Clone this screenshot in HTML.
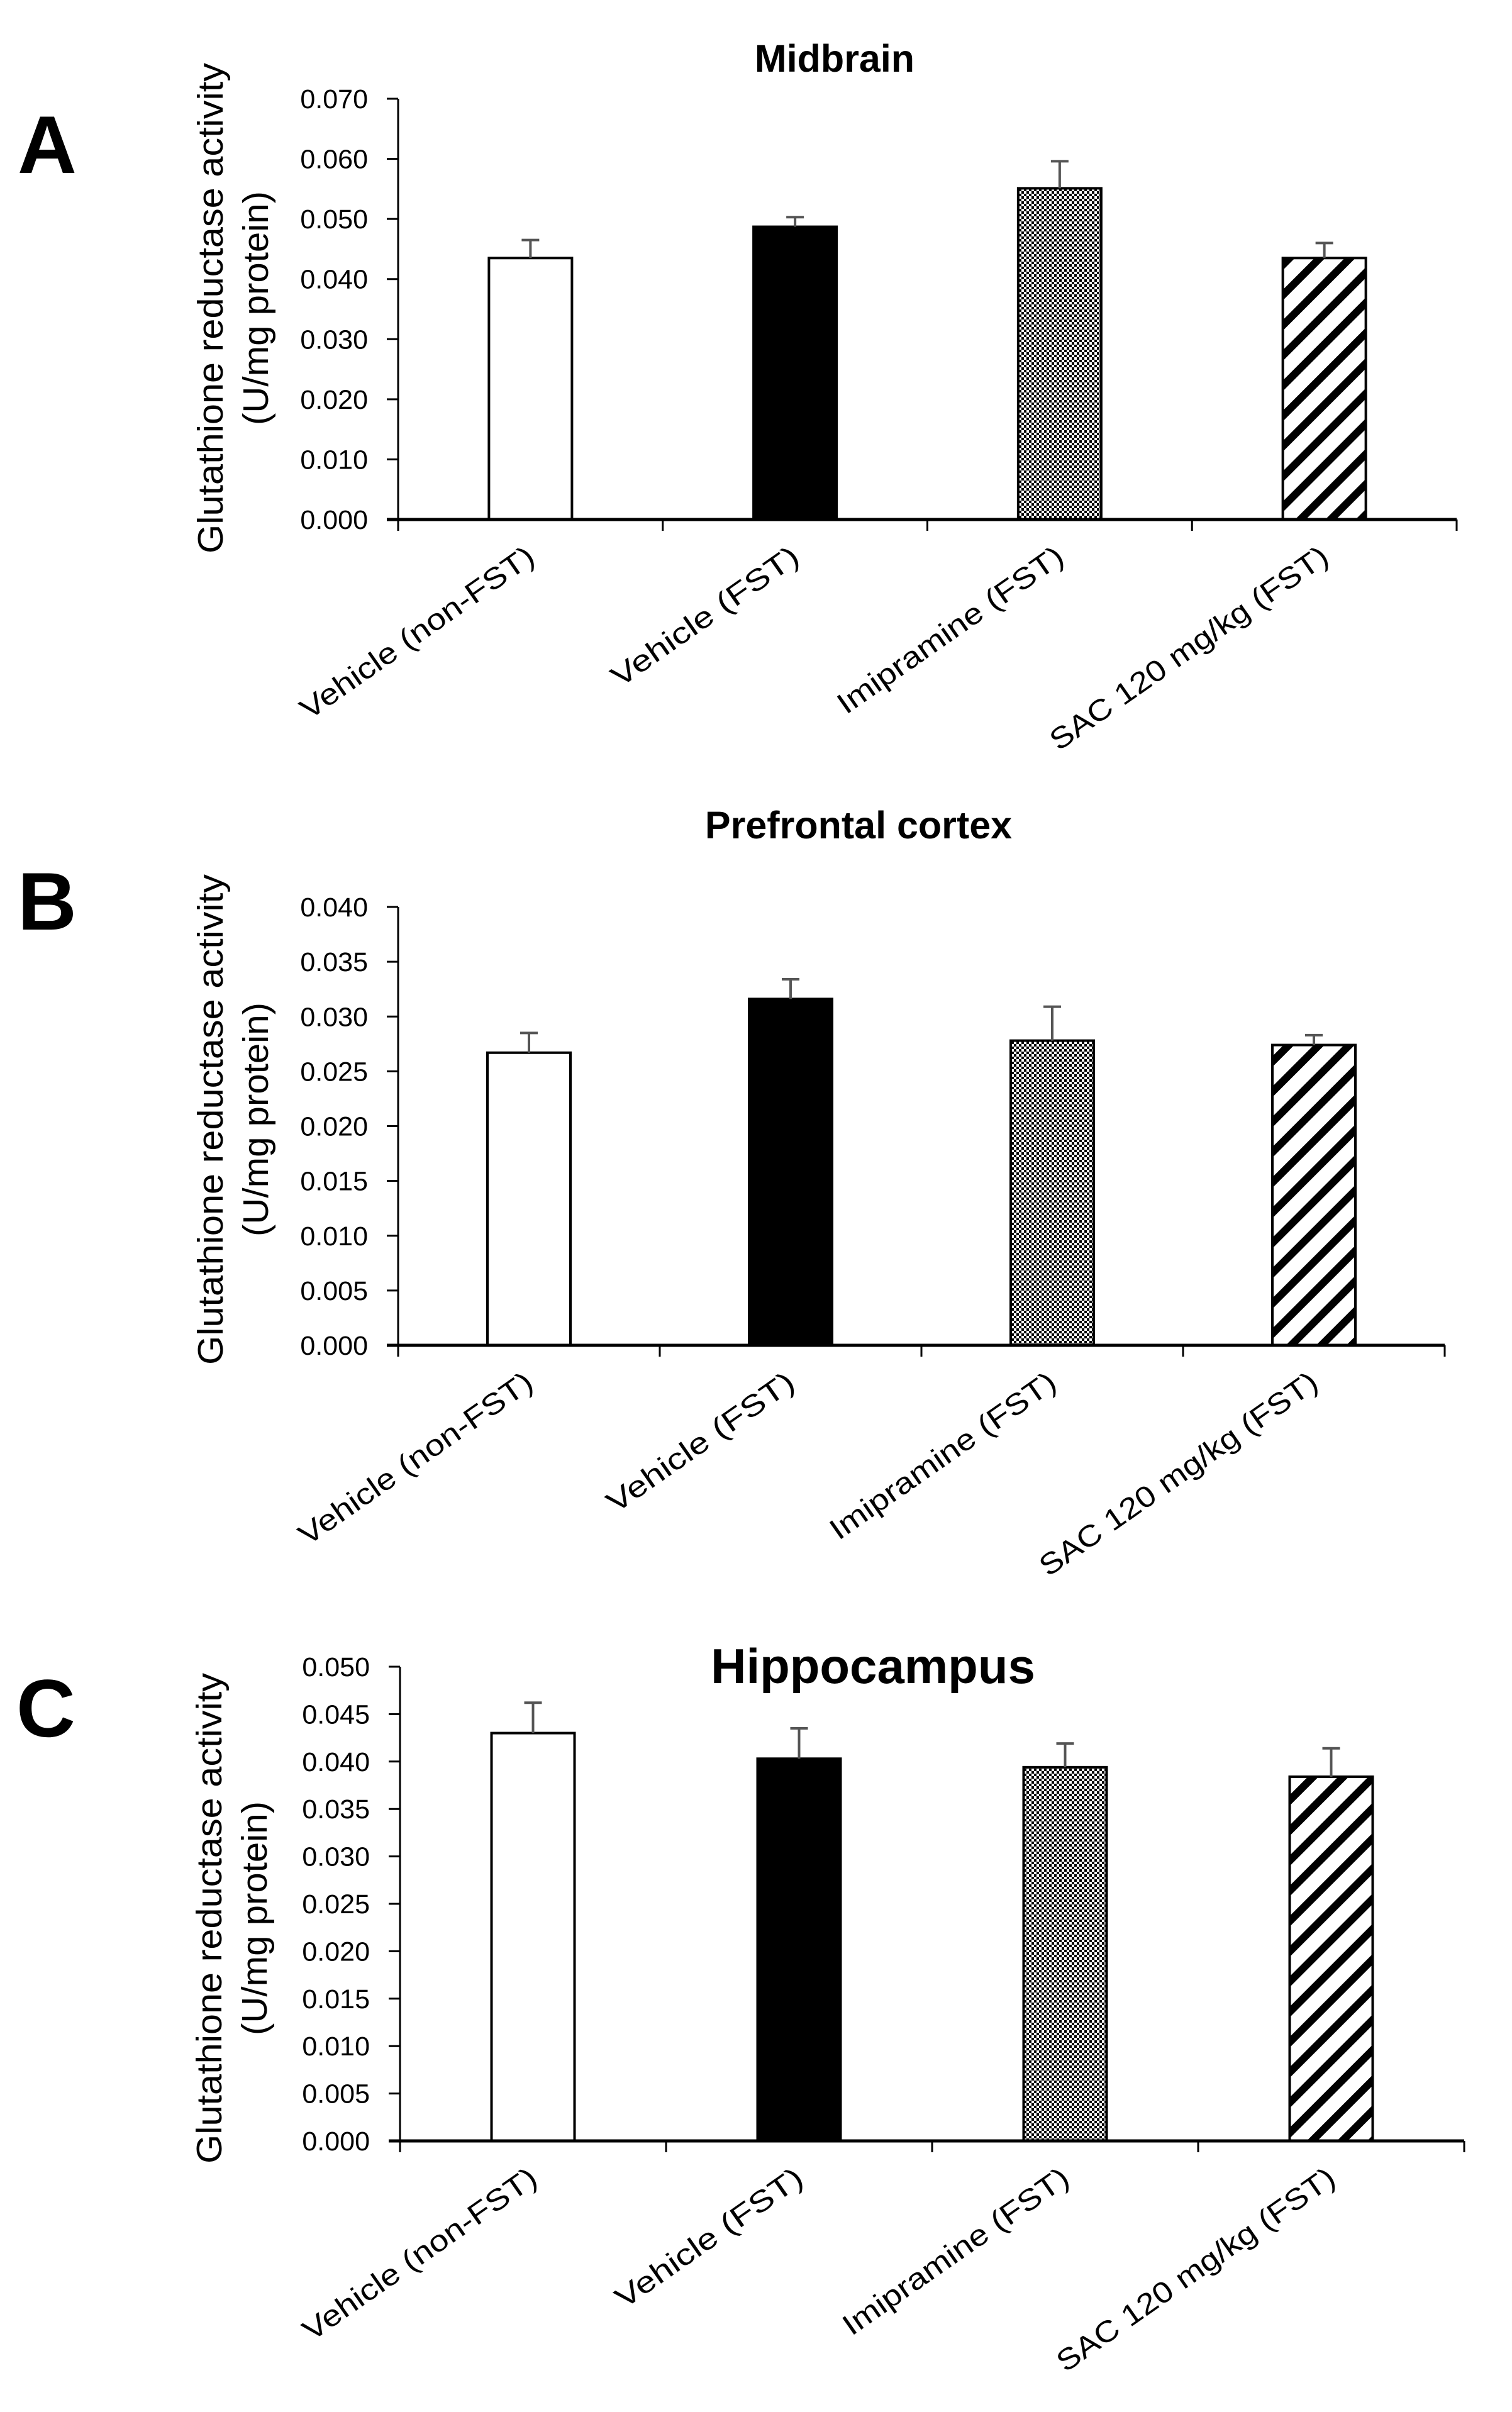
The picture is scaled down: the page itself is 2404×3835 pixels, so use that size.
<!DOCTYPE html>
<html><head><meta charset="utf-8"><style>
html,body{margin:0;padding:0;background:#fff;}
svg{display:block;font-family:"Liberation Sans",Arial,sans-serif;}
</style></head><body>
<svg id="fig" width="2404" height="3835" viewBox="0 0 2404 3835" xmlns="http://www.w3.org/2000/svg">
<defs>
<pattern id="checker" patternUnits="userSpaceOnUse" width="8" height="8">
<rect width="8" height="8" fill="#fff"/><rect width="4" height="4" fill="#000"/><rect x="4" y="4" width="4" height="4" fill="#000"/>
</pattern>
<pattern id="hatch" patternUnits="userSpaceOnUse" width="34" height="34" patternTransform="rotate(45)">
<rect width="34" height="34" fill="#fff"/><rect x="0" y="0" width="12" height="34" fill="#000"/>
</pattern>
</defs>
</svg>
<script>
const categories = ["Vehicle (non-FST)", "Vehicle (FST)", "Imipramine (FST)", "SAC 120 mg/kg (FST)"];
const midbrainValues = [0.0435, 0.0487, 0.0551, 0.0435];
const midbrainErrTop = [0.0465, 0.0503, 0.0596, 0.0460];
const midbrainTicks = ["0.000","0.010","0.020","0.030","0.040","0.050","0.060","0.070"];
const prefrontalValues = [0.0267, 0.0316, 0.0278, 0.0274];
const prefrontalErrTop = [0.0285, 0.0334, 0.0309, 0.0283];
const prefrontalTicks = ["0.000","0.005","0.010","0.015","0.020","0.025","0.030","0.035","0.040"];
const hippocampusValues = [0.0430, 0.0403, 0.0394, 0.0384];
const hippocampusErrTop = [0.0462, 0.0435, 0.0419, 0.0414];
const hippocampusTicks = ["0.000","0.005","0.010","0.015","0.020","0.025","0.030","0.035","0.040","0.045","0.050"];

const NS = "http://www.w3.org/2000/svg";
const svg = document.getElementById("fig");
const fills = ["#fff", "#000", "url(#checker)", "url(#hatch)"];
const labelLens = [442, 352, 427, 528];

function mk(tag, attrs, parent) {
  const e = document.createElementNS(NS, tag);
  for (const k in attrs) e.setAttribute(k, attrs[k]);
  (parent || svg).appendChild(e);
  return e;
}

function panel(cfg) {
  const g = mk("g", {});
  
  
  const x0 = cfg.x0, x1 = cfg.x1, yTop = cfg.yTop, yBot = cfg.yBot;
  const maxV = parseFloat(cfg.ticks[cfg.ticks.length - 1]);
  const yScale = v => yBot - (v / maxV) * (yBot - yTop);
  const catW = (x1 - x0) / cfg.values.length;
  const xCenter = i => x0 + catW * (i + 0.5);

  const letter = mk("text", {x: cfg.letterX, y: cfg.letterY, "font-size": 130, "font-weight": "bold"}, g);
  letter.textContent = cfg.letter;
  
  

  const title = mk("text", {x: cfg.titleX, y: cfg.titleY, "font-size": cfg.titleSize, "font-weight": "bold", "text-anchor": "middle"}, g);
  title.textContent = cfg.title;
  
  

  const yt1 = mk("text", {transform: `translate(${cfg.ytX1},${cfg.ytY}) rotate(-90)`, "font-size": 57, "text-anchor": "middle", textLength: 780, lengthAdjust: "spacingAndGlyphs"}, g);
  yt1.textContent = "Glutathione reductase  activity";
  
  
  const yt2 = mk("text", {transform: `translate(${cfg.ytX1 + 72},${cfg.ytY}) rotate(-90)`, "font-size": 57, "text-anchor": "middle", textLength: 372, lengthAdjust: "spacingAndGlyphs"}, g);
  yt2.textContent = "(U/mg protein)";
  
  

  cfg.ticks.forEach(t => {
    const y = yScale(parseFloat(t));
    const tk = mk("line", {x1: x0 - 18, x2: x0, y1: y, y2: y, stroke: "#000", "stroke-width": 3}, g);
    
    
    const tl = mk("text", {x: x0 - 48, y: y + 15, "font-size": 43, "text-anchor": "end"}, g);
    tl.textContent = t;
    
    
  });

  const bw = 132;
  cfg.values.forEach((v, i) => {
    const cx = xCenter(i);
    const top = yScale(v);
    const bar = mk("rect", {x: cx - bw / 2, y: top, width: bw, height: yBot - top, fill: fills[i], stroke: "#000", "stroke-width": 4}, g);
    
    
    const et = yScale(cfg.err[i]);
    const el = mk("line", {x1: cx, x2: cx, y1: et, y2: top, stroke: "#555", "stroke-width": 4}, g);
    
    
    const ec = mk("line", {x1: cx - 14, x2: cx + 14, y1: et, y2: et, stroke: "#555", "stroke-width": 4}, g);
    
    
    const lx = cx + 10, ly = yBot + 66;
    const lab = mk("text", {x: 0, y: 0, transform: `translate(${lx},${ly}) rotate(-35)`, "font-size": 47, "text-anchor": "end", textLength: labelLens[i], lengthAdjust: "spacingAndGlyphs"}, g);
    lab.textContent = categories[i];
    
    
  });

  for (let i = 0; i <= cfg.values.length; i++) {
    const x = x0 + catW * i;
    const tk = mk("line", {x1: x, x2: x, y1: yBot, y2: yBot + 18, stroke: "#000", "stroke-width": 3}, g);
    
    
  }
  const ya = mk("line", {x1: x0, x2: x0, y1: yTop, y2: yBot + 18, stroke: "#000", "stroke-width": 3}, g);
  
  
  const xa = mk("line", {x1: x0 - 18, x2: x1, y1: yBot, y2: yBot, stroke: "#000", "stroke-width": 5}, g);
  
  
}

panel({name: "midbrain", letter: "A", letterX: 28, letterY: 275, title: "Midbrain", titleX: 1327, titleY: 114, titleSize: 61,
  x0: 633, x1: 2316, yTop: 157, yBot: 826, ytX1: 354, ytY: 490,
  values: midbrainValues, err: midbrainErrTop, ticks: midbrainTicks});
panel({name: "prefrontal", letter: "B", letterX: 28, letterY: 1478, title: "Prefrontal cortex", titleX: 1365, titleY: 1333, titleSize: 61,
  x0: 633, x1: 2297, yTop: 1442, yBot: 2139, ytX1: 354, ytY: 1780,
  values: prefrontalValues, err: prefrontalErrTop, ticks: prefrontalTicks});
panel({name: "hippocampus", letter: "C", letterX: 26, letterY: 2761, title: "Hippocampus", titleX: 1388, titleY: 2676, titleSize: 78,
  x0: 636, x1: 2328, yTop: 2650, yBot: 3404, ytX1: 352, ytY: 3050,
  values: hippocampusValues, err: hippocampusErrTop, ticks: hippocampusTicks});
</script>
</body></html>
